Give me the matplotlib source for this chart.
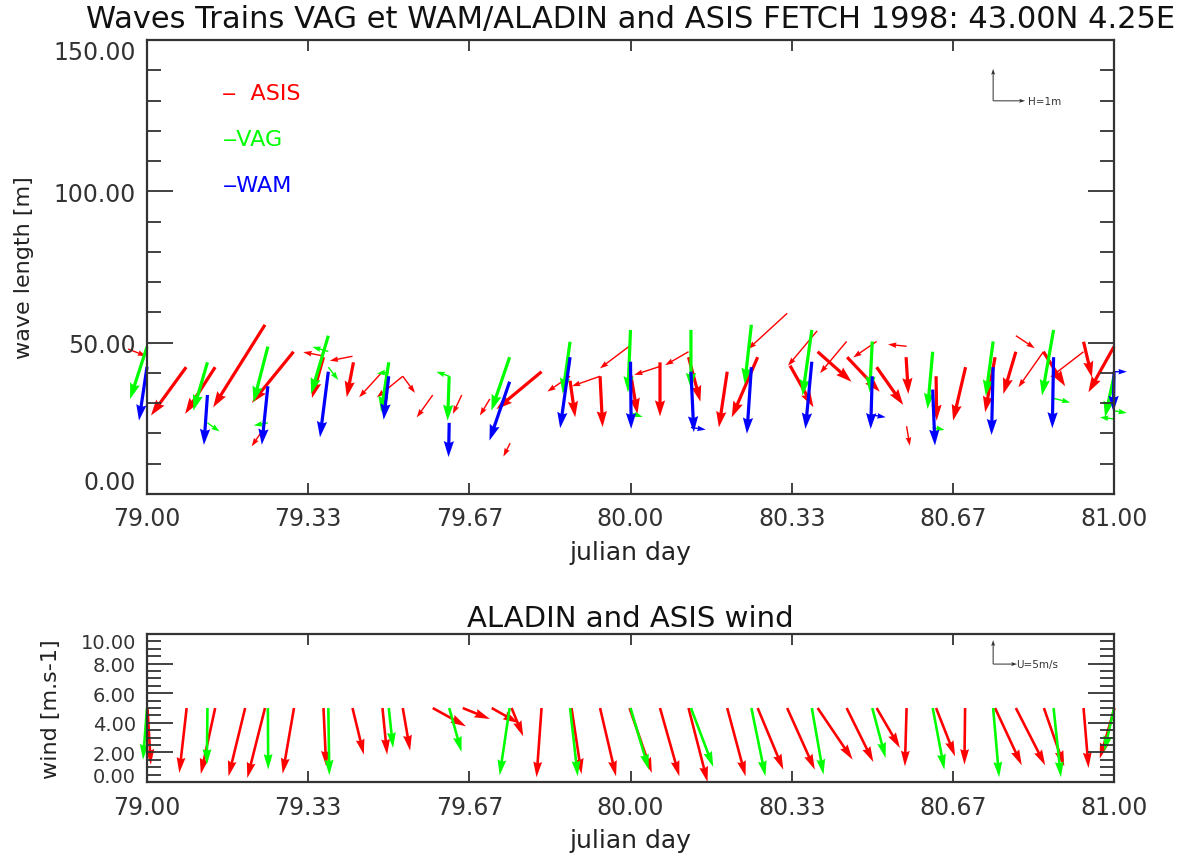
import numpy as np
import matplotlib
matplotlib.use('Agg')
import matplotlib.pyplot as plt
from matplotlib.transforms import ScaledTranslation

# --- données --------------------------------------------------------------
# VAG (vert) et WAM (bleu) : toutes les 3 h, longueur d'onde [m] + vecteur H [m]
vag_t = [79.000, 79.125, 79.250, 79.375, 79.500, 79.625, 79.750, 79.875, 80.000,
         80.125, 80.250, 80.375, 80.500, 80.625, 80.750, 80.875, 81.000]
vag_len = [48.6, 43.5, 48.7, 52.3, 43.5, 38.9, 45.2, 50.3, 54.2,
           54.2, 55.9, 54.2, 50.4, 47.0, 50.4, 54.2, 38.9]
vag_u = [-0.53, -0.44, -0.45, -0.54, -0.24, -0.05, -0.57, -0.23, -0.08,
         0.00, -0.21, -0.29, -0.08, -0.16, -0.23, -0.36, -0.28]
vag_v = [-1.63, -1.51, -1.74, -1.82, -1.56, -1.39, -1.67, -1.63, -1.95,
         -1.84, -1.85, -2.05, -1.59, -1.79, -1.70, -2.05, -1.28]

# trains secondaires VAG
vag2_t = [79.125, 79.250, 79.375, 79.375, 79.500, 79.625, 80.000, 80.625, 80.875, 81.000, 81.000]
vag2_len = [23.5, 23.5, 47.1, 41.9, 40.3, 38.9, 26.8, 22.0, 31.6, 24.8, 27.5]
vag2_u = [0.38, -0.44, -0.50, 0.31, -0.37, -0.40, 0.38, 0.37, 0.52, -0.44, 0.40]
vag2_v = [-0.27, -0.08, 0.14, -0.40, -0.05, 0.14, -0.13, -0.08, -0.13, 0.05, -0.07]

wam_t = vag_t
wam_len = [42.0, 32.7, 35.6, 40.4, 38.9, 23.5, 37.1, 45.2, 43.7,
           40.4, 41.9, 43.7, 38.9, 34.5, 41.9, 45.2, 40.4]
wam_u = [-0.25, -0.11, -0.19, -0.26, -0.16, -0.02, -0.63, -0.31, 0.02,
         0.09, -0.14, -0.20, -0.05, 0.07, -0.05, -0.04, -0.02]
wam_v = [-1.68, -1.56, -1.83, -2.05, -1.36, -1.07, -1.84, -2.22, -2.10,
         -1.89, -2.08, -2.10, -1.65, -1.75, -2.12, -2.22, -1.25]

wam2_t = [80.125, 80.500, 81.000]
wam2_len = [22.0, 26.1, 40.4]
wam2_u = [0.46, 0.42, 0.40]
wam2_v = [-0.07, -0.07, 0.00]

# ASIS (rouge) : train principal
asis_t = [79.081, 79.141, 79.244, 79.303, 79.365, 79.427, 79.816, 79.875, 79.937, 80.001,
          80.061, 80.120, 80.200, 80.263, 80.330, 80.387, 80.448, 80.509, 80.570, 80.632,
          80.693, 80.754, 80.797, 80.854, 80.937, 81.000]
asis_len = [41.9, 41.9, 55.9, 47.0, 45.2, 43.5, 40.4, 37.4, 38.9, 39.1,
            43.5, 45.2, 40.4, 45.2, 42.4, 47.0, 45.2, 41.9, 45.2, 38.9,
            41.9, 45.2, 47.0, 47.0, 50.3, 48.7]
asis_u = [-1.10, -0.94, -1.62, -1.30, -0.36, -0.21, -1.41, 0.16, 0.08, 0.20,
          0.00, 0.37, -0.26, -0.81, 0.73, 1.06, 1.02, 0.83, 0.07, 0.02,
          -0.39, -0.31, -0.39, 0.68, 0.26, -0.80]
asis_v = [-1.51, -1.46, -2.58, -1.60, -1.28, -1.09, -1.17, -1.14, -1.59, -1.20,
          -1.69, -1.39, -1.74, -1.88, -1.30, -0.94, -1.08, -1.18, -1.15, -1.39,
          -1.67, -1.72, -1.32, -1.08, -1.11, -1.43]

# ASIS : trains secondaires
asis2_t = [78.961, 79.237, 79.365, 79.425, 79.487, 79.529, 79.529, 79.591, 79.651, 79.709,
           79.751, 79.875, 79.937, 79.999, 80.060, 80.120, 80.324, 80.386, 80.447, 80.509,
           80.571, 80.571, 80.797, 80.854, 80.937]
asis2_len = [47.9, 20.6, 45.6, 45.5, 40.4, 38.9, 38.9, 32.7, 32.7, 31.4,
             16.8, 38.9, 38.9, 49.0, 42.1, 47.0, 59.7, 53.9, 50.4, 50.4,
             48.8, 22.4, 52.3, 47.0, 47.0]
asis2_u = [0.56, -0.31, -0.63, -0.71, -0.73, -0.81, 0.38, -0.50, -0.28, -0.31,
           -0.21, -0.71, -0.88, -0.94, -0.79, -0.73, -1.22, -0.91, -0.83, -0.73,
           -0.58, 0.10, 0.59, -0.78, -1.04]
asis2_v = [-0.22, -0.46, 0.12, -0.14, -0.80, -0.66, -0.52, -0.70, -0.59, -0.52,
           -0.42, -0.48, -0.31, -0.71, -0.26, -0.42, -1.12, -1.09, -0.99, -0.50,
           0.06, -0.61, -0.39, -1.11, -0.80]

# vent ALADIN (vert) et ASIS (rouge) [m/s]
aladin_t = vag_t
aladin_u = [-0.83, -0.13, 0.07, 0.21, 0.90, 2.57, -2.08, 1.60, 3.82,
            4.65, 2.92, 2.43, 2.78, 2.43, 1.25, 1.53, -2.01]
aladin_v = [-10.77, -11.81, -12.85, -14.03, -8.33, -9.17, -14.03, -14.24, -12.85,
            -12.29, -14.24, -13.89, -10.42, -12.85, -14.44, -14.44, -9.03]

asisw_t = [79.001, 79.082, 79.141, 79.203, 79.244, 79.304, 79.365, 79.425, 79.487, 79.529,
           79.591, 79.653, 79.713, 79.754, 79.816, 79.878, 79.937, 79.998, 80.061, 80.120,
           80.200, 80.263, 80.324, 80.387, 80.447, 80.509, 80.571, 80.632, 80.692, 80.754,
           80.797, 80.855, 80.937, 81.001]
asisw_u = [0.69, -1.53, -2.99, -3.47, -3.68, -2.36, 0.56, 2.36, 0.97, 1.53,
           6.94, 5.69, 5.55, 2.43, -1.04, 2.08, 3.33, 4.65, 4.03, 3.96,
           3.82, 5.35, 5.76, 7.29, 5.56, 4.86, -0.35, 3.96, -0.14, 5.56,
           6.11, 4.24, 1.04, -3.06]
asisw_v = [-11.81, -13.54, -13.75, -14.24, -14.58, -13.68, -12.15, -9.72, -9.72, -8.89,
           -3.82, -2.29, -3.13, -5.90, -14.44, -13.75, -14.24, -13.54, -14.24, -15.42,
           -14.24, -12.85, -12.85, -10.77, -11.25, -8.33, -12.15, -10.07, -11.81, -11.94,
           -11.94, -12.15, -12.50, -10.56]

WIND_BASE = 5.0

xticks = [79.0, 79 + 1 / 3, 79 + 2 / 3, 80.0, 80 + 1 / 3, 80 + 2 / 3, 81.0]
xlabels = ['79.00', '79.33', '79.67', '80.00', '80.33', '80.67', '81.00']

RED, GREEN, BLUE = '#ff0000', '#00ff00', '#0000ff'
AXC = '#333333'

plt.rcParams['font.family'] = 'DejaVu Sans'

fig = plt.figure(figsize=(12.02, 8.54), dpi=100)
ax1 = fig.add_axes([0.1223, 0.4204, 0.8045, 0.5316])
ax2 = fig.add_axes([0.1223, 0.0831, 0.8045, 0.1733])

thick = dict(angles='uv', scale_units='dots', units='dots', width=3.2,
             headwidth=3.2, headlength=5.0, headaxislength=4.5, clip_on=False)
thin = dict(angles='uv', scale_units='dots', units='dots', width=1.4,
            headwidth=4.0, headlength=6.0, headaxislength=5.5, clip_on=False)


def fleches(ax, t, y, u, v, color, style, scale):
    ax.quiver(t, y, u, v, color=color, scale=scale, **style)


def decaler(label, dy_pt):
    # petit décalage vertical d'une étiquette (en points)
    label.set_transform(label.get_transform() +
                        ScaledTranslation(0, dy_pt / 72.0, fig.dpi_scale_trans))


# --- panneau du haut : trains de vagues ------------------------------------
sc_h = 1 / 32.0   # 1 m -> 32 px
fleches(ax1, asis2_t, asis2_len, asis2_u, asis2_v, RED, thin, sc_h)
fleches(ax1, asis_t, asis_len, asis_u, asis_v, RED, thick, sc_h)
fleches(ax1, vag2_t, vag2_len, vag2_u, vag2_v, GREEN, thin, sc_h)
fleches(ax1, vag_t, vag_len, vag_u, vag_v, GREEN, thick, sc_h)
fleches(ax1, wam2_t, wam2_len, wam2_u, wam2_v, BLUE, thin, sc_h)
fleches(ax1, wam_t, wam_len, wam_u, wam_v, BLUE, thick, sc_h)

# flèche de référence H=1m
ref = dict(angles='uv', scale_units='dots', units='dots', width=1.0,
           headwidth=4, headlength=6, headaxislength=5, color=AXC)
ax1.quiver([0.875, 0.875], [0.866, 0.866], [1, 0], [0, 1], scale=sc_h,
           transform=ax1.transAxes, **ref)
ax1.text(0.911, 0.866, 'H=1m', transform=ax1.transAxes, fontsize=7.5,
         va='center', ha='left', color=AXC)

ax1.text(0.078, 0.883, '\u2012  ASIS', color=RED, transform=ax1.transAxes,
         fontsize=16, va='center')
ax1.text(0.078, 0.782, '\u2012VAG', color=GREEN, transform=ax1.transAxes,
         fontsize=16, va='center')
ax1.text(0.078, 0.681, '\u2012WAM', color=BLUE, transform=ax1.transAxes,
         fontsize=16, va='center')

ax1.set_xlim(79, 81)
ax1.set_ylim(0, 150)
ax1.set_yticks([0, 50, 100, 150])
ax1.set_yticklabels(['0.00', '50.00', '100.00', '150.00'])
ax1.set_yticks(np.arange(0, 151, 10), minor=True)
ax1.set_title('Waves Trains VAG et WAM/ALADIN and ASIS FETCH 1998: 43.00N 4.25E',
              fontsize=22, pad=9, color='#111111')
ax1.set_xlabel('julian day', fontsize=18, labelpad=7, color='#222222')
ax1.set_ylabel('wave length [m]', fontsize=16, labelpad=14, color='#222222')

# --- panneau du bas : vent -------------------------------------------------
sc_w = 5 / 24.0   # 5 m/s -> 24 px
wstyle = dict(thick, width=2.6, headwidth=3.4, headlength=6.0, headaxislength=5.5)
fleches(ax2, asisw_t, [WIND_BASE] * len(asisw_t), asisw_u, asisw_v, RED, wstyle, sc_w)
fleches(ax2, aladin_t, [WIND_BASE] * len(aladin_t), aladin_u, aladin_v, GREEN, wstyle, sc_w)

ax2.quiver([0.875, 0.875], [0.797, 0.797], [5, 0], [0, 5], scale=sc_w,
           transform=ax2.transAxes, **ref)
ax2.text(0.899, 0.797, 'U=5m/s', transform=ax2.transAxes, fontsize=7.5,
         va='center', ha='left', color=AXC)

ax2.set_xlim(79, 81)
ax2.set_ylim(0, 10)
ax2.set_yticks([0, 2, 4, 6, 8, 10])
ax2.set_yticklabels(['0.00', '2.00', '4.00', '6.00', '8.00', '10.00'])
ax2.set_yticks(np.arange(0, 10.01, 0.5), minor=True)
ax2.set_title('ALADIN and ASIS wind', fontsize=21, pad=6, color='#111111')
ax2.set_xlabel('julian day', fontsize=18, labelpad=7, color='#222222')
ax2.set_ylabel('wind [m.s-1]', fontsize=16, labelpad=14, color='#222222')

for ax in (ax1, ax2):
    ax.set_xticks(xticks)
    ax.set_xticklabels(xlabels)
    ax.tick_params(axis='both', which='both', direction='in', top=True, right=True,
                   colors=AXC, labelsize=17, width=1.3)
    ax.tick_params(axis='y', which='major', length=19, pad=8)
    ax.tick_params(axis='y', which='minor', length=10)
    ax.tick_params(axis='x', which='major', length=8, pad=9)

ax2.tick_params(axis='y', which='major', labelsize=14)

labs = ax1.get_yticklabels()
labs[0].set_va('bottom')
labs[-1].set_va('top')
labs = ax2.get_yticklabels()
decaler(labs[0], 5.5)
decaler(labs[-1], -5.0)

for ax in (ax1, ax2):
    for sp in ax.spines.values():
        sp.set_color(AXC)
        sp.set_linewidth(1.6)

fig.savefig('out.png', dpi=100)
